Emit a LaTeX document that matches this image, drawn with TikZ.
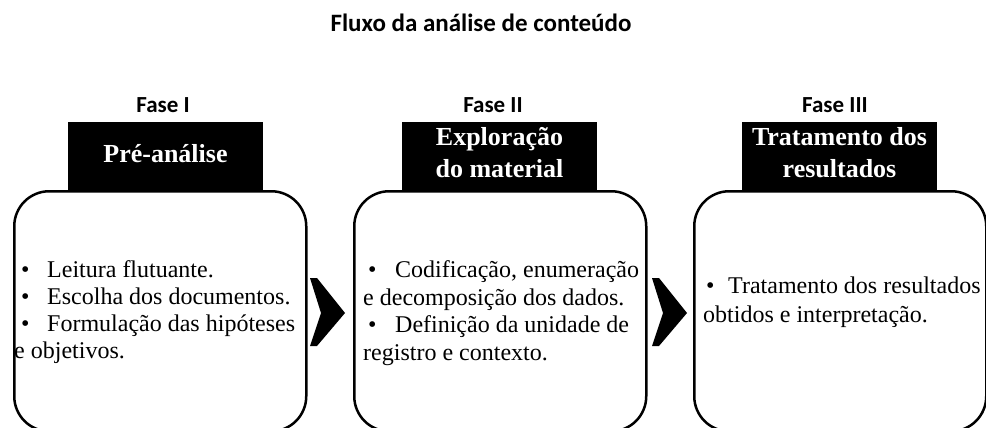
\documentclass[tikz,border=0pt]{standalone}
\usepackage{fontspec}
\setmainfont{Liberation Serif}
\newfontfamily\calib{Carlito}
\begin{document}
\begin{tikzpicture}[x=1pt,y=-1pt,
  phase/.style={rectangle, rounded corners=35pt, draw=black, line width=2.5pt, fill=white,
    minimum width=292pt, minimum height=240pt, anchor=north west, inner sep=0pt},
  hdr/.style={rectangle, fill=black, draw=none, minimum width=195pt, minimum height=68pt,
    anchor=north west, inner sep=0pt},
  hdrtext/.style={text=white, font=\fontsize{26}{32}\selectfont\bfseries, inner sep=0pt, anchor=base},
  body/.style={font=\fontsize{24}{27}\selectfont, inner sep=0pt, anchor=base west},
  faselbl/.style={font=\calib\bfseries\fontsize{23}{28}\selectfont, inner sep=0pt, anchor=base},
  chev/.style={fill=black, draw=none}
]
\useasboundingbox (0,0) rectangle (986,428);

% title
\node[font=\calib\bfseries\fontsize{25}{30}\selectfont, inner sep=0pt, anchor=base] (title) at (481,32) {Fluxo da análise de conteúdo};

% phase labels
\node[faselbl] (f1) at (163,112) {Fase I};
\node[faselbl] (f2) at (493,112) {Fase II};
\node[faselbl] (f3) at (835,112) {Fase III};

% headers
\node[hdr] (h1) at (68,122) {};
\node[hdr] (h2) at (402,122) {};
\node[hdr] (h3) at (742,122) {};

% boxes
\node[phase] (b1) at (13,190) {};
\node[phase] (b2) at (353,190) {};
\node[phase] (b3) at (693,190) {};

% header texts
\node[hdrtext] (h1t) at (165.5,162) {Pré-análise};
\node[hdrtext] (h2t1) at (499.5,145) {Exploração};
\node[hdrtext] (h2t2) at (499.5,177) {do material};
\node[hdrtext] (h3t1) at (839.5,145) {Tratamento dos};
\node[hdrtext] (h3t2) at (839.5,177) {resultados};

% body texts box 1
\node[body] (b1a) at (21,277) {\makebox[26pt][l]{•}Leitura flutuante.};
\node[body] (b1b) at (21,304) {\makebox[26pt][l]{•}Escolha dos documentos.};
\node[body] (b1c) at (21,331) {\makebox[26pt][l]{•}Formulação das hipóteses};
\node[body] (b1d) at (14,358) {e objetivos.};

% body texts box 2
\node[body] (b2a) at (368,277) {\makebox[27pt][l]{•}Codificação, enumeração};
\node[body] (b2b) at (363,305) {e decomposição dos dados.};
\node[body] (b2c) at (368,332) {\makebox[27pt][l]{•}Definição da unidade de};
\node[body] (b2d) at (363,360) {registro e contexto.};

% body texts box 3
\node[body] (b3a) at (706,293) {\makebox[22pt][l]{•}Tratamento dos resultados};
\node[body] (b3b) at (703,322) {obtidos e interpretação.};

% chevrons
\fill[chev] (310,278) -- (317,278) -- (345,313) -- (317,346) -- (310,346) -- (321,313) -- cycle;
\fill[chev] (652,278) -- (659,278) -- (687,313) -- (659,346) -- (652,346) -- (663,313) -- cycle;
\end{tikzpicture}
\end{document}
